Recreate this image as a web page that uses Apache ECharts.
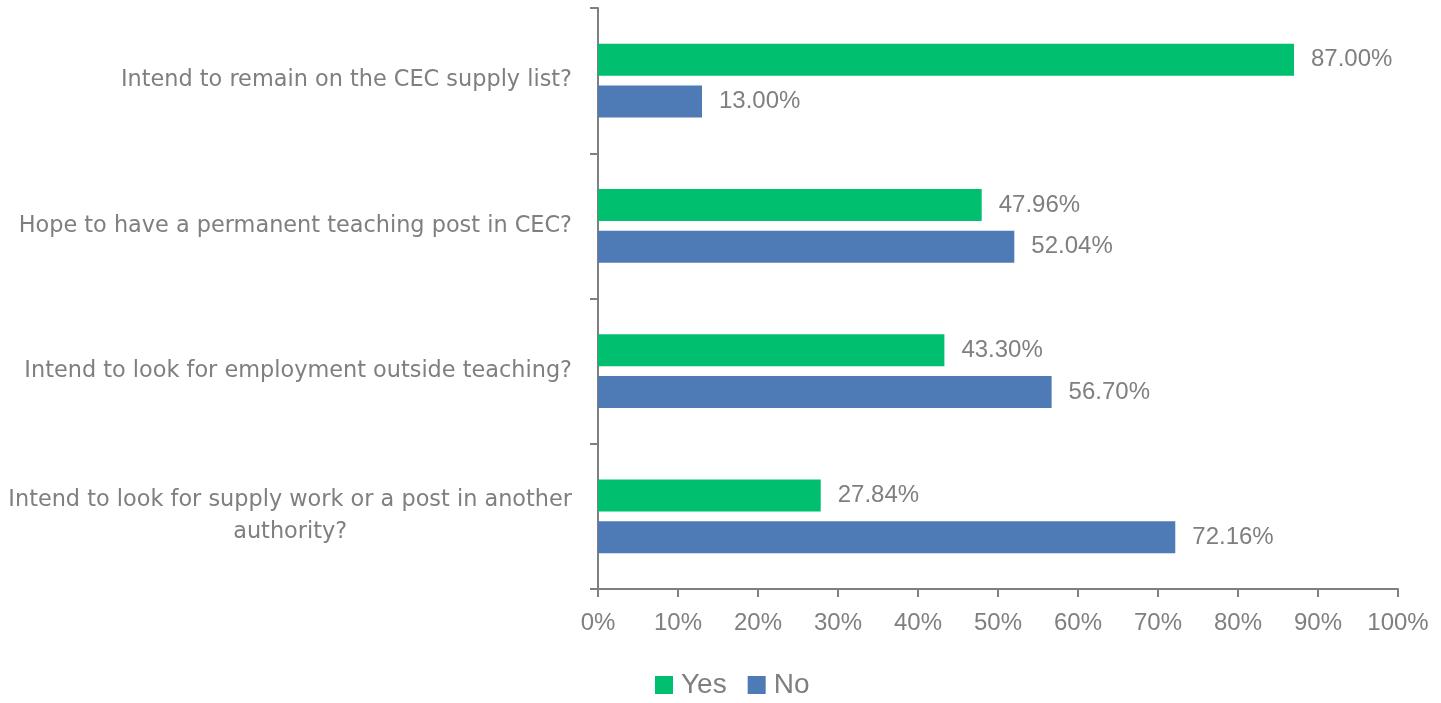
<!DOCTYPE html>
<html>
<head>
<meta charset="utf-8">
<script src="https://cdn.jsdelivr.net/npm/echarts@6/dist/echarts.min.js"></script>
<style>
  html, body { margin: 0; padding: 0; background: #fff; }
  #chart { width: 1441px; height: 703px; }
</style>
</head>
<body>
<div id="chart"></div>
<script>
var categories = [
  'Intend to remain on the CEC supply list?',
  'Hope to have a permanent teaching post in CEC?',
  'Intend to look for employment outside teaching?',
  'Intend to look for supply work or a post in another\nauthority?'
]
var yesValues = [87.00, 47.96, 43.30, 27.84]
var noValues = [13.00, 52.04, 56.70, 72.16]
var xTicks = [0, 10, 20, 30, 40, 50, 60, 70, 80, 90, 100]

var grey = '#7f7f7f'
var numFont = '"Liberation Sans", Arial, sans-serif'
var textFont = '"DejaVu Sans", sans-serif'

var chart = echarts.init(document.getElementById('chart'))

function valueLabel(p) {
  return p.value.toFixed(2) + '%'
}

chart.setOption({
  animation: false,
  textStyle: { fontFamily: numFont },
  grid: {
    left: 598,
    right: 43,
    top: 8,
    bottom: 114,
    containLabel: false,
    outerBoundsMode: 'none'
  },
  legend: {
    data: ['Yes', 'No'],
    left: 650,
    top: 666,
    itemWidth: 18,
    itemHeight: 18,
    itemGap: 21,
    icon: 'rect',
    textStyle: {
      fontSize: 28,
      fontFamily: numFont,
      color: grey,
      padding: [0, 0, 0, 3]
    }
  },
  xAxis: {
    type: 'value',
    min: xTicks[0],
    max: xTicks[xTicks.length - 1],
    interval: 10,
    splitLine: { show: false },
    axisLine: { show: true, lineStyle: { color: grey, width: 2 } },
    axisTick: { show: true, length: 8, lineStyle: { color: grey, width: 2 } },
    axisLabel: {
      color: grey,
      fontSize: 24,
      fontFamily: numFont,
      margin: 22,
      formatter: function (v) { return v + '%' }
    }
  },
  yAxis: {
    type: 'category',
    inverse: true,
    data: categories,
    axisLine: { show: true, lineStyle: { color: grey, width: 2 } },
    axisTick: { show: true, length: 8, lineStyle: { color: grey, width: 2 } },
    axisLabel: {
      color: grey,
      fontSize: 22.4,
      margin: 26,
      align: 'right',
      formatter: function (v) {
        return v.split('\n').map(function (line) {
          return '{c|' + line + '}'
        }).join('\n')
      },
      rich: {
        c: {
          align: 'center',
          color: grey,
          fontSize: 22.4,
          lineHeight: 32,
          fontFamily: textFont
        }
      }
    }
  },
  series: [
    {
      name: 'Yes',
      type: 'bar',
      data: yesValues,
      barWidth: 32,
      barGap: '31%',
      itemStyle: { color: '#00bf6f' },
      label: {
        show: true,
        position: 'right',
        distance: 17,
        color: grey,
        fontSize: 24,
        fontFamily: numFont,
        formatter: valueLabel
      }
    },
    {
      name: 'No',
      type: 'bar',
      data: noValues,
      barWidth: 32,
      barGap: '31%',
      itemStyle: { color: '#4e7ab5' },
      label: {
        show: true,
        position: 'right',
        distance: 17,
        color: grey,
        fontSize: 24,
        fontFamily: numFont,
        formatter: valueLabel
      }
    }
  ]
})
</script>
</body>
</html>
